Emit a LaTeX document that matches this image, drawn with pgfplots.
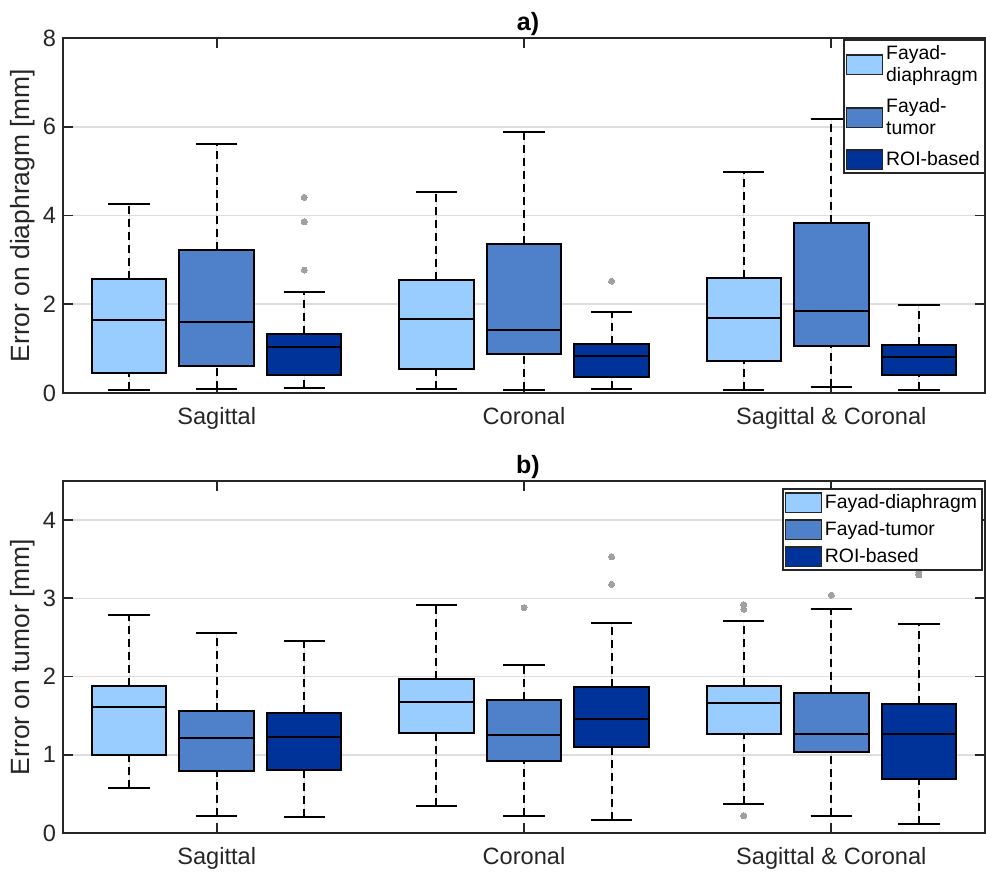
\documentclass[border=0pt]{standalone}
\usepackage{fontspec}
\setmainfont{Liberation Sans}
\usepackage{pgfplots}
\pgfplotsset{compat=1.18}
\usepgfplotslibrary{statistics}

\definecolor{cA}{RGB}{153,204,255}
\definecolor{cB}{RGB}{79,129,203}
\definecolor{cC}{RGB}{0,51,153}
\definecolor{axc}{RGB}{38,38,38}
\definecolor{gridc}{RGB}{222,222,222}
\definecolor{outc}{RGB}{160,160,160}

\pgfplotsset{
  boxplot/draw direction=y,
  boxplot/draw/lower whisker/.code={%
    \draw[black, line width=1pt, dash pattern=on 4pt off 2.5pt]
      (boxplot cs:\pgfplotsboxplotvalue{lower whisker}) -- (boxplot cs:\pgfplotsboxplotvalue{lower quartile});
    \draw[black, line width=1pt, solid]
      (boxplot whisker cs:\pgfplotsboxplotvalue{lower whisker},0) -- (boxplot whisker cs:\pgfplotsboxplotvalue{lower whisker},1);
  },
  boxplot/draw/upper whisker/.code={%
    \draw[black, line width=1pt, dash pattern=on 4pt off 2.5pt]
      (boxplot cs:\pgfplotsboxplotvalue{upper quartile}) -- (boxplot cs:\pgfplotsboxplotvalue{upper whisker});
    \draw[black, line width=1pt, solid]
      (boxplot whisker cs:\pgfplotsboxplotvalue{upper whisker},0) -- (boxplot whisker cs:\pgfplotsboxplotvalue{upper whisker},1);
  },
  boxplot/every box/.style={draw=black, line width=1pt},
  boxplot/every median/.style={draw=black, line width=1pt},
  myaxis/.style={
    scale only axis,
    width=461pt,
    xmin=0.5, xmax=3.5, ymin=0,
    xtick={1,2,3},
    xticklabels={Sagittal, Coronal, Sagittal \& Coronal},
    xtick pos=both, ytick pos=both,
    tick align=inside,
    major tick length=5pt,
    tick style={axc, line width=0.9pt},
    axis line style={axc, line width=1pt},
    ymajorgrids=true,
    major grid style={gridc, line width=0.8pt},
    ticklabel style={font=\fontsize{11.8}{14}\selectfont, text=axc},
    /pgf/number format/assume math mode=true,
    xticklabel style={yshift=-3.5pt},
    every axis y label/.style={at={(axis description cs:-0.0434,0.5)}, rotate=90, anchor=center, font=\fontsize{13.2}{15}\selectfont, text=axc},
    title style={font=\fontsize{12.5}{14}\selectfont\bfseries, xshift=2pt, yshift=-8.5pt},
    legend image code/.code={\draw[##1, line width=0.6pt] (0pt,-4.8pt) rectangle (18pt,4.8pt);},
    legend style={
      draw=axc, line width=0.9pt, fill=white,
      font=\fontsize{9.7}{11}\selectfont,
      inner sep=1pt, outer sep=0pt,
      cells={anchor=west, align=left},
      nodes={inner sep=1.5pt},
    },
  },
}

\newcommand{\bx}[8]{%
  \addplot[boxplot prepared={draw position=#1, lower whisker=#2, lower quartile=#3,
      median=#4, upper quartile=#5, upper whisker=#6, box extend=0.242, whisker extend=0.134},
    fill=#7, draw=black, line width=1pt, mark=*, mark size=1.5pt,
    mark options={draw=outc, fill=outc, solid, line width=0pt}, forget plot]
    coordinates {#8};
}

\begin{document}
\begin{tikzpicture}
\useasboundingbox (0,0) rectangle (493pt,-436pt);

% ---------------- panel a ----------------
\begin{axis}[myaxis,
  at={(31.5pt,-196.5pt)}, anchor=south west,
  height=177.5pt, ymax=8, ytick={0,2,4,6,8},
  ylabel={Error on diaphragm [mm]},
  title={a)},
  legend style={at={(1,1)}, anchor=north east, yshift=-1pt, row sep=4pt},
]
\addlegendimage{fill=cA, draw=axc}
\addlegendentry{Fayad-\\diaphragm}
\addlegendimage{fill=cB, draw=axc}
\addlegendentry{Fayad-\\tumor}
\addlegendimage{fill=cC, draw=axc}
\addlegendentry{ROI-based}

\bx{0.715}{0.07}{0.44}{1.64}{2.58}{4.26}{cA}{}
\bx{1.000}{0.10}{0.61}{1.61}{3.22}{5.61}{cB}{}
\bx{1.285}{0.11}{0.41}{1.04}{1.34}{2.27}{cC}{(0,4.41) (0,3.86) (0,2.77)}
\bx{1.715}{0.09}{0.54}{1.66}{2.55}{4.54}{cA}{}
\bx{2.000}{0.07}{0.88}{1.42}{3.36}{5.88}{cB}{}
\bx{2.285}{0.08}{0.35}{0.83}{1.10}{1.83}{cC}{(0,2.52)}
\bx{2.715}{0.07}{0.73}{1.70}{2.59}{4.99}{cA}{}
\bx{3.000}{0.14}{1.07}{1.85}{3.84}{6.18}{cB}{}
\bx{3.285}{0.07}{0.41}{0.82}{1.08}{1.99}{cC}{}
\end{axis}

% ---------------- panel b ----------------
\begin{axis}[myaxis,
  at={(31.5pt,-416.5pt)}, anchor=south west,
  height=176pt, ymax=4.5, ytick={0,1,2,3,4},
  ylabel={Error on tumor [mm]},
  title={b)},
  legend style={at={(1,1)}, anchor=north east, xshift=-1.5pt, yshift=-4pt, row sep=2pt},
]
\addlegendimage{fill=cA, draw=axc}
\addlegendentry{Fayad-diaphragm}
\addlegendimage{fill=cB, draw=axc}
\addlegendentry{Fayad-tumor}
\addlegendimage{fill=cC, draw=axc}
\addlegendentry{ROI-based}

\bx{0.715}{0.57}{1.00}{1.61}{1.88}{2.79}{cA}{}
\bx{1.000}{0.22}{0.79}{1.21}{1.56}{2.56}{cB}{}
\bx{1.285}{0.20}{0.81}{1.23}{1.53}{2.45}{cC}{}
\bx{1.715}{0.34}{1.28}{1.68}{1.97}{2.91}{cA}{}
\bx{2.000}{0.22}{0.92}{1.25}{1.70}{2.15}{cB}{(0,2.88)}
\bx{2.285}{0.16}{1.10}{1.46}{1.87}{2.69}{cC}{(0,3.53) (0,3.18)}
\bx{2.715}{0.37}{1.27}{1.66}{1.88}{2.71}{cA}{(0,2.92) (0,2.86) (0,0.22)}
\bx{3.000}{0.22}{1.04}{1.27}{1.79}{2.87}{cB}{(0,3.04)}
\bx{3.285}{0.12}{0.69}{1.27}{1.65}{2.67}{cC}{(0,3.33) (0,3.30)}
\end{axis}
\end{tikzpicture}
\end{document}
